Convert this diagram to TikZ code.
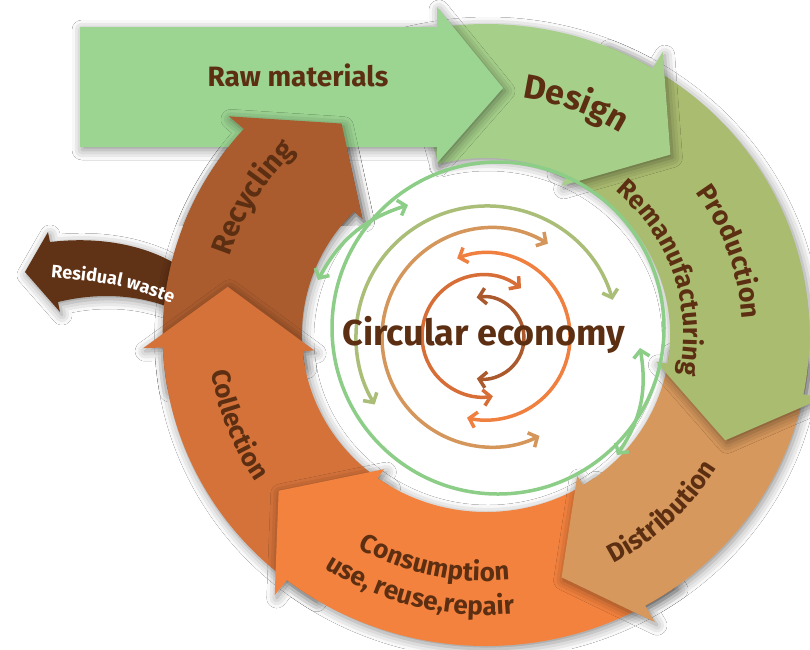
\documentclass[tikz,border=0pt]{standalone}
\usepackage{fontspec}
\setmainfont{Fira Sans}
\usetikzlibrary{arrows.meta,decorations.text,shadows.blur}

\definecolor{rawc}{HTML}{9CD492}
\definecolor{desc}{HTML}{A6D08A}
\definecolor{prodc}{HTML}{AABC70}
\definecolor{distc}{HTML}{D6985C}
\definecolor{consc}{HTML}{F2823E}
\definecolor{collc}{HTML}{D4723A}
\definecolor{recyc}{HTML}{AA5C2E}
\definecolor{resc}{HTML}{603216}
\definecolor{txtc}{HTML}{5C2E12}
\definecolor{ringG}{HTML}{8CCD87}
\definecolor{ringB}{HTML}{AABE78}
\definecolor{ringC}{HTML}{D4965A}
\definecolor{ringD}{HTML}{F08040}
\definecolor{ringE}{HTML}{D76E37}
\definecolor{ringF}{HTML}{AA5A2D}

\newcommand\ftDesign{\bfseries\fontsize{34}{36}\selectfont}
\newcommand\ftRing{\bfseries\fontsize{26}{28}\selectfont}
\newcommand\ftProd{\bfseries\fontsize{27}{29}\selectfont}
\newcommand\ftRecy{\bfseries\fontsize{29}{31}\selectfont}
\newcommand\ftResid{\bfseries\fontsize{18}{20}\selectfont}
\newcommand\ftRaw{\bfseries\fontsize{28}{30}\selectfont}
\newcommand\ftCE{\bfseries\fontsize{36}{38}\selectfont}

\tikzset{
  bandshadow/.style={blur shadow={shadow xshift=2pt,shadow yshift=-3pt,shadow blur radius=10pt,shadow opacity=45}},
  ringline/.style={line width=3.5pt},
}

% band segment: colour, start angle, outer base, inner base, tip angle
\newcommand\bandseg[5]{%
  \fill[#1,bandshadow] (#2:323.4 and 311) arc[start angle=#2,end angle=#3,x radius=323.4,y radius=311]
    -- (#3:343.2 and 330) -- (#5:263.1 and 253) -- (#4:172.6 and 166)
    -- (#4:184.1 and 177) arc[start angle=#4,end angle=#2,x radius=184.1,y radius=177] -- cycle;}

\begin{document}
\begin{tikzpicture}[x=1pt,y=1pt,>={Straight Barb[length=7pt,width=16pt]}]
\useasboundingbox (0,0) rectangle (810,-649);
\fill[white] (0,0) rectangle (810,-649);

% residual waste arrow
\fill[resc,bandshadow] (185,-270) .. controls (150,-245) and (100,-236) .. (50,-242)
  -- (48,-232) -- (25,-272) -- (60,-312) -- (58,-302)
  .. controls (95,-293) and (140,-292) .. (185,-314) -- cycle;

\begin{scope}[shift={(486,-335)}]
  \bandseg{recyc}{190}{138.5}{135.7}{123.3}
  \bandseg{collc}{238}{182.3}{185.3}{169}
  \bandseg{consc}{-54}{-128}{-126.1}{-142}
  \bandseg{distc}{-5}{-60.5}{-58.1}{-73.3}
  \bandseg{prodc}{68}{-11}{-9.3}{-24.6}
  \bandseg{desc}{105}{59}{64}{45.5}
\end{scope}

% raw materials arrow
\fill[rawc,bandshadow] (80,-27) -- (437,-27) -- (437,-7) -- (503,-88) -- (437,-163) -- (437,-147) -- (80,-147) -- cycle;

% recycling head over raw materials
\begin{scope}
  \clip (140,0) rectangle (470,-225);
  \begin{scope}[shift={(486,-335)}]
    \bandseg{recyc}{165}{138.5}{135.7}{123.3}
  \end{scope}
\end{scope}

% inner rings
\coordinate (oc) at (498,-328);
\draw[ringline,ringG] (oc) circle[radius=166];
\coordinate (g1a) at (408,-205);
\coordinate (g1b) at (318,-280);
\draw[ringline,ringG,<->] (g1a) to[bend right=22] (g1b);
\coordinate (g2a) at (640,-348);
\coordinate (g2b) at (617,-455);
\draw[ringline,ringG,<->] (g2a) to[bend left=22] (g2b);
\coordinate (c2) at (487,-337);
\draw[ringline,ringB,<->] ([shift={(16.5:131)}]c2) arc[start angle=16.5,end angle=211,radius=131];
\coordinate (c3) at (491.5,-337.5);
\draw[ringline,ringC,<->] ([shift={(59:109.5)}]c3) arc[start angle=59,end angle=296,radius=109.5];
\coordinate (c4) at (486.5,-336.5);
\draw[ringline,ringD,<->] ([shift={(110.6:83.5)}]c4) arc[start angle=110.6,end angle=-103.5,radius=83.5];
\coordinate (c5) at (483,-336);
\draw[ringline,ringE,<->] ([shift={(51.5:61)}]c5) arc[start angle=51.5,end angle=279.3,radius=61];
\coordinate (c6) at (483,-338);
\draw[ringline,ringF,<->] ([shift={(99:41)}]c6) arc[start angle=99,end angle=-98.7,radius=41];

% labels
\node[anchor=base,text=txtc,font=\ftRaw] (raw) at (298,-86) {Raw materials};
\node[anchor=base,text=txtc,font=\ftCE] (ce) at (484,-345) {Circular economy};

\path[decorate,decoration={text along path,text align=center,text color=white,text={|\ftResid|Residual waste}}]
  (46,-277) .. controls (90,-281) and (132,-284) .. (176,-306);

\begin{scope}[shift={(486,-335)}]
\path[decorate,decoration={text along path,text align=center,text color=txtc,text={|\ftDesign|Design}}]
  (99.4:249.6 and 240) arc[start angle=99.4,end angle=39.4,x radius=249.6,y radius=240];
\path[decorate,decoration={text along path,text align=center,text color=txtc,text={|\ftProd|Production}}]
  (54.3:256.8 and 247) arc[start angle=54.3,end angle=-15.7,x radius=256.8,y radius=247];
\path[decorate,decoration={text along path,text align=center,text color=txtc,text={|\ftRing|Remanufacturing}}]
  (63.5:197.6 and 190) arc[start angle=63.5,end angle=-26.5,x radius=197.6,y radius=190];
\path[decorate,decoration={text along path,text align=center,text color=txtc,text={|\ftRing|Distribution}}]
  (-86:269.4 and 259) arc[start angle=-86,end angle=-6,x radius=269.4,y radius=259];
\path[decorate,decoration={text along path,text align=center,text color=txtc,text={|\ftRing|Consumption}}]
  (217.5:255.8 and 246) arc[start angle=217.5,end angle=297.5,x radius=255.8,y radius=246];
\path[decorate,decoration={text along path,text align=center,text color=txtc,text={|\ftRing|use, reuse,repair}}]
  (215.8:291.2 and 280) arc[start angle=215.8,end angle=295.8,x radius=291.2,y radius=280];
\path[decorate,decoration={text along path,text align=center,text color=txtc,text={|\ftRing|Collection}}]
  (170.5:276.6 and 266) arc[start angle=170.5,end angle=230.5,x radius=276.6,y radius=266];
\path[decorate,decoration={text along path,text align=center,text color=txtc,text={|\ftRecy|Recycling}}]
  (178.8:269.4 and 259) arc[start angle=178.8,end angle=118.8,x radius=269.4,y radius=259];
\end{scope}
\end{tikzpicture}
\end{document}
